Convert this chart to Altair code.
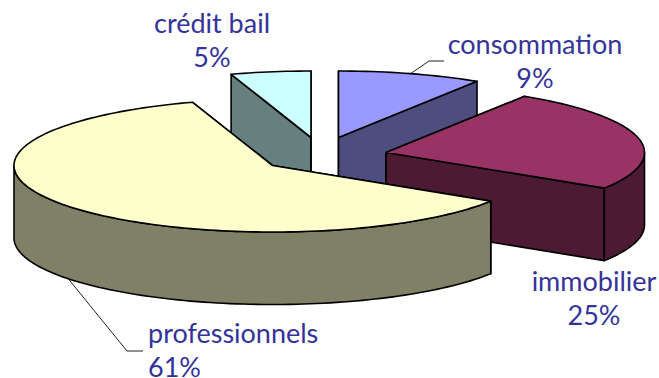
import math
import altair as alt
import pandas as pd

# Loan portfolio breakdown, percent of total
categories = ["consommation", "immobilier", "professionnels", "crédit bail"]
shares = [9, 25, 61, 5]

top_colors = ["#9999FF", "#993366", "#FFFFCC", "#CCFFFF"]
wall_colors = ["#4D4D80", "#4D1A33", "#808066", "#668080"]
text_color = "#333399"

# Projection of the disc: ellipse radii, extruded depth, start angle
RX, RY, DEPTH = 258.5, 66.5, 72.5
START = 0.0
# Where each pulled-out slice has its tip
tips = [(338.5, 137.5), (386.0, 152.5), (272.5, 165.5), (311.0, 137.5)]

# Label layout: anchor x, baseline y, alignment
label_pos = [(535, 54, "center"), (594, 291, "center"), (148, 343, "left"), (212, 33, "center")]
LINE_GAP = 33.5

W, H = 659, 378
xs = alt.Scale(domain=[0, W], range=[0, W], nice=False, zero=False)
ys = alt.Scale(domain=[H, 0], nice=False, zero=False)


def rim(tip, deg, drop=0.0):
    r = math.radians(deg)
    return (tip[0] + RX * math.sin(r), tip[1] - RY * math.cos(r) + drop)


def arc(tip, a, b, drop=0.0):
    n = max(2, int(abs(b - a) / 1.5) + 1)
    return [rim(tip, a + (b - a) * k / n, drop) for k in range(n + 1)]


def polygon(points, fill, sw=1.6):
    pts = points + [points[0]]
    df = pd.DataFrame({"x": [p[0] for p in pts], "y": [p[1] for p in pts], "i": range(len(pts))})
    return (
        alt.Chart(df)
        .mark_line(fill=fill, stroke="#000000", strokeWidth=sw, strokeJoin="round", interpolate="linear")
        .encode(
            x=alt.X("x:Q", scale=xs, axis=None),
            y=alt.Y("y:Q", scale=ys, axis=None),
            order="i:Q",
        )
    )


def cut_face(tip, deg, fill):
    p = rim(tip, deg)
    return polygon([tip, p, (p[0], p[1] + DEPTH), (tip[0], tip[1] + DEPTH)], fill)


layers = []
angle = START
spans = []
for s in shares:
    spans.append((angle, angle + s * 3.6))
    angle += s * 3.6

# Painter's order: far slices first, the big front slice last
for idx in [3, 0, 1, 2]:
    a, b = spans[idx]
    tip = tips[idx]
    layers.append(cut_face(tip, a, wall_colors[idx]))
    layers.append(cut_face(tip, b, wall_colors[idx]))
    lo, hi = max(a, 90), min(b, 270)
    if lo < hi:
        layers.append(polygon(arc(tip, lo, hi) + arc(tip, hi, lo, DEPTH), wall_colors[idx]))
    layers.append(polygon([tip] + arc(tip, a, b), top_colors[idx]))


def leader(idx, drop, elbow, end):
    a, b = spans[idx]
    start = rim(tips[idx], (a + b) / 2, drop)
    pts = [start, elbow, end]
    df = pd.DataFrame({"x": [p[0] for p in pts], "y": [p[1] for p in pts], "i": [0, 1, 2]})
    return (
        alt.Chart(df)
        .mark_line(stroke="#222222", strokeWidth=1)
        .encode(x=alt.X("x:Q", scale=xs, axis=None), y=alt.Y("y:Q", scale=ys, axis=None), order="i:Q")
    )


layers.append(leader(2, DEPTH, (127, 351), (143, 351)))
layers.append(leader(0, 0, (429, 61), (444, 61)))

for idx, name in enumerate(categories):
    lx, ly, al = label_pos[idx]
    df = pd.DataFrame({"x": [lx, lx], "y": [ly, ly + LINE_GAP], "t": [name, f"{shares[idx]}%"]})
    layers.append(
        alt.Chart(df)
        .mark_text(font="Lato", fontSize=27, color=text_color, align=al, baseline="alphabetic")
        .encode(x=alt.X("x:Q", scale=xs, axis=None), y=alt.Y("y:Q", scale=ys, axis=None), text="t:N")
    )

chart = (
    alt.layer(*layers)
    .properties(width=W, height=H, padding=0, autosize=alt.AutoSizeParams(type="none"), background="#FFFFFF")
    .configure_view(stroke=None)
)

chart.save("out.html", embed_options={"renderer": "svg", "actions": False})
